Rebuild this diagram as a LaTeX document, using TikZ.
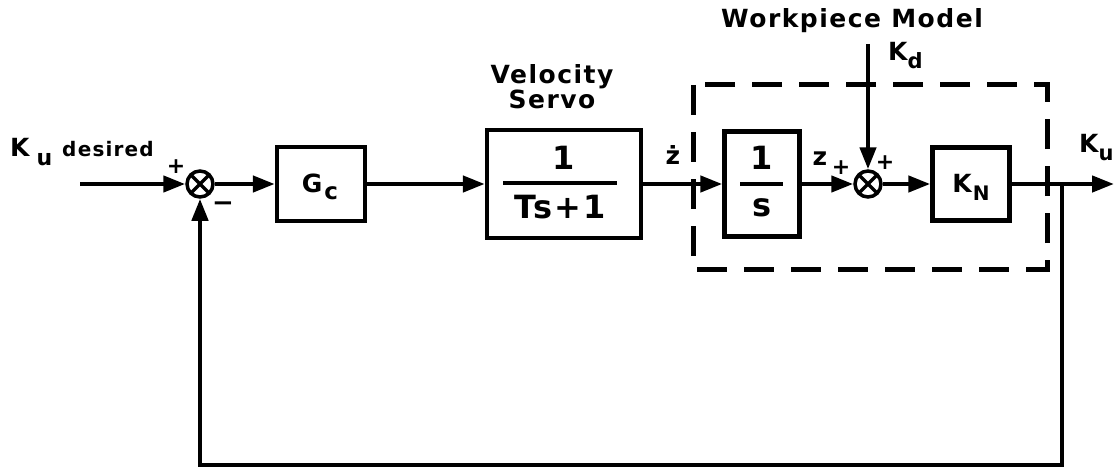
\documentclass[tikz,border=0pt]{standalone}
\usepackage{fontspec}
\setmainfont{DejaVu Sans}
\newfontfamily\lfont[LetterSpace=6]{DejaVu Sans}
\usetikzlibrary{arrows.meta}
\newcommand{\fs}[1]{\fontsize{#1}{#1}\selectfont}
\begin{document}
\begin{tikzpicture}[x=1pt,y=-1pt,line width=4.4pt,
  blk/.style={draw,line width=4.4pt,inner sep=0pt},
  sumj/.style={circle,draw,line width=3.5pt,minimum size=26pt,inner sep=0pt,
    path picture={\draw[line width=3.5pt]
      (path picture bounding box.north west)--(path picture bounding box.south east)
      (path picture bounding box.north east)--(path picture bounding box.south west);}},
  arr/.style={-{Triangle[length=22pt,width=16pt]}},
  lbl/.style={font=\lfont\bfseries\fs{25},inner sep=0pt},
  big/.style={font=\lfont\bfseries\fs{32},inner sep=0pt},
  sgn/.style={font=\lfont\bfseries\fs{22},inner sep=0pt},
  wbox/.style={draw,line width=5pt,dash pattern=on 30pt off 17pt}]
\useasboundingbox (0,0) rectangle (1115,468);
% blocks
\node[sumj] (s1) at (200,184) {};
\node[blk,minimum width=88pt,minimum height=74pt] (gc) at (321,184) {};
\node[lbl] (gct) at (320,187) {G\hspace{2pt}\raisebox{-7pt}{\fs{23}c}};
\node[blk,minimum width=154pt,minimum height=108pt] (vs) at (564,184) {};
\node[big] (vsn) at (564,158) {1};
\node[big] (vsd) at (560,207) {Ts+1};
\coordinate (vsb1) at (503,183);
\coordinate (vsb2) at (617,183);
\draw (vsb1) -- (vsb2);
\node[blk,minimum width=75pt,minimum height=105pt] (ig) at (762,184) {};
\node[big] (ign) at (762,158) {1};
\node[big] (igd) at (762,208) {s};
\coordinate (igb1) at (740,184);
\coordinate (igb2) at (783,184);
\draw (igb1) -- (igb2);
\node[sumj] (s2) at (868,184) {};
\node[blk,minimum width=77pt,minimum height=73pt] (kn) at (971,184) {};
\node[lbl] (knt) at (971,187) {K\hspace{1pt}\raisebox{-8pt}{\fs{20}N}};
% workpiece dashed box
\coordinate (wa) at (693,85);
\coordinate (wb) at (1047,269);
\draw[wbox] (wa) rectangle (wb);
% coordinates
\coordinate (in) at (80,184);
\coordinate (out) at (1114,184);
\coordinate (fb) at (1062,184);
\coordinate (br) at (1062,465);
\coordinate (bl) at (200,465);
\coordinate (kd) at (868,44);
% connectors
\draw[arr] (in) -- (s1.west);
\draw[arr] (s1.east) -- (gc.west);
\draw[arr] (gc.east) -- (vs.west);
\draw[arr] (vs.east) -- (ig.west);
\draw[arr] (ig.east) -- (s2.west);
\draw[arr] (kd) -- (s2.north);
\draw[arr] (s2.east) -- (kn.west);
\draw[arr] (kn.east) -- (out);
\draw[arr] (fb) -- (br) -- (bl) -- (s1.south);
% labels
\node[lbl,anchor=west] (kud) at (8,152) {K\hspace{7pt}\raisebox{-9pt}{\fs{22}u}\hspace{10pt}{\fs{20}desired}};
\node[sgn] (p1) at (176,167) {+};
\node[font=\bfseries\fs{26},inner sep=0pt] (m1) at (223,207) {−};
\node[lbl,align=center,font=\lfont\bfseries\fontsize{25}{19}\selectfont] (vl) at (552,87) {Velocity\\Servo};
\node[lbl] (zd) at (673,155) {ż};
\node[lbl] (zz) at (820,159) {z};
\node[sgn] (p2) at (841,168) {+};
\node[sgn] (p3) at (885,163) {+};
\node[lbl] (wm) at (852,21) {Workpiece Model};
\node[lbl,anchor=west] (kdt) at (886,56) {K\raisebox{-8pt}{\fs{21}d}};
\node[lbl,anchor=west] (kut) at (1077,148) {K\raisebox{-8pt}{\fs{21}u}};
\end{tikzpicture}
\end{document}
